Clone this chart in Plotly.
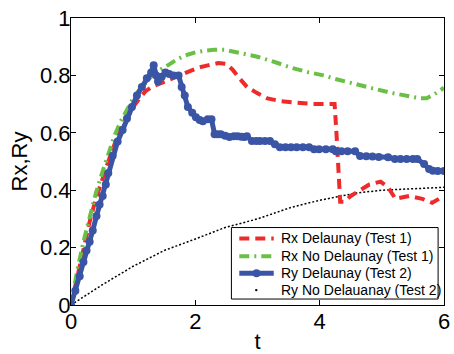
import plotly.graph_objects as go

# Rx Delaunay (Test 1)
t_rx_del = [0, 0.1, 0.2, 0.3, 0.4, 0.5, 0.6, 0.7, 0.8, 0.9, 1.0, 1.1, 1.2, 1.3, 1.41, 1.55,
            1.73, 1.9, 2.05, 2.2, 2.37, 2.5, 2.6, 2.71, 2.83, 2.98, 3.16, 3.38, 3.6, 3.9,
            4.1, 4.24, 4.27, 4.3, 4.33, 4.4, 4.5, 4.65, 4.8, 4.98, 5.1, 5.22, 5.44, 5.65,
            5.81, 5.92]
rx_del = [0, 0.1, 0.2, 0.29, 0.37, 0.44, 0.5, 0.56, 0.61, 0.65, 0.69, 0.72, 0.745, 0.76,
          0.77, 0.785, 0.8, 0.815, 0.827, 0.835, 0.843, 0.84, 0.82, 0.79, 0.76, 0.74, 0.72,
          0.71, 0.705, 0.7, 0.7, 0.7, 0.6, 0.45, 0.36, 0.36, 0.38, 0.4, 0.42, 0.43, 0.41,
          0.37, 0.38, 0.37, 0.356, 0.37]

# Rx No Delaunay (Test 1)
t_rx_nodel = [0, 0.1, 0.2, 0.3, 0.4, 0.5, 0.6, 0.7, 0.8, 0.9, 1.0, 1.1, 1.2, 1.35, 1.52,
              1.7, 1.84, 2.0, 2.16, 2.3, 2.48, 2.7, 3.0, 3.3, 3.54, 3.8, 4.06, 4.3, 4.59,
              4.85, 5.13, 5.4, 5.62, 5.72, 5.85, 6.0]
rx_nodel = [0, 0.12, 0.22, 0.31, 0.39, 0.46, 0.53, 0.59, 0.64, 0.68, 0.72, 0.75, 0.775,
            0.81, 0.83, 0.855, 0.87, 0.88, 0.886, 0.889, 0.889, 0.88, 0.865, 0.845, 0.827,
            0.812, 0.8, 0.785, 0.768, 0.755, 0.74, 0.728, 0.72, 0.72, 0.735, 0.757]

# Ry Delaunay (Test 2)
t_ry_del = [0, 0.07, 0.14, 0.2, 0.25, 0.3, 0.35, 0.41, 0.46, 0.51,
            0.56, 0.6, 0.67, 0.75, 0.83, 0.9, 0.98, 1.06, 1.14, 1.22,
            1.29, 1.33, 1.37, 1.40, 1.46, 1.52, 1.58, 1.65, 1.73, 1.78,
            1.83, 1.88, 1.95, 2.01, 2.07, 2.12, 2.2, 2.26, 2.31, 2.36,
            2.41, 2.48, 2.55, 2.62, 2.68, 2.74, 2.79, 2.83, 2.91, 2.98,
            3.04, 3.12, 3.2, 3.28, 3.36, 3.45, 3.54, 3.63, 3.73, 3.83,
            3.91, 3.99, 4.1, 4.21, 4.26, 4.35, 4.45, 4.57, 4.65, 4.75,
            4.85, 4.95, 5.1, 5.21, 5.3, 5.4, 5.5, 5.57, 5.68, 5.76,
            5.82, 5.9, 6.0]
ry_del = [0, 0.05, 0.1, 0.15, 0.19, 0.22, 0.26, 0.31, 0.35, 0.38,
          0.42, 0.46, 0.52, 0.57, 0.61, 0.65, 0.69, 0.73, 0.76, 0.79,
          0.81, 0.835, 0.80, 0.78, 0.795, 0.81, 0.805, 0.80, 0.80, 0.76,
          0.73, 0.69, 0.67, 0.654, 0.645, 0.64, 0.647, 0.647, 0.595, 0.595,
          0.595, 0.59, 0.585, 0.588, 0.588, 0.586, 0.585, 0.588, 0.571, 0.571,
          0.571, 0.571, 0.571, 0.56, 0.55, 0.55, 0.55, 0.55, 0.55, 0.55,
          0.543, 0.543, 0.543, 0.543, 0.536, 0.536, 0.536, 0.536, 0.519, 0.518,
          0.517, 0.516, 0.515, 0.509, 0.509, 0.509, 0.509, 0.509, 0.491, 0.474,
          0.468, 0.467, 0.467]

# Ry No Delauanay (Test 2)
t_ry_nodel = [0, 0.5, 1.0, 1.5, 2.0, 2.48, 3.0, 3.54, 4.0, 4.59, 5.0, 5.5, 6.0]
ry_nodel = [0, 0.07, 0.135, 0.19, 0.23, 0.27, 0.3, 0.34, 0.365, 0.39, 0.4, 0.405, 0.41]

x_ticks = [0, 2, 4, 6]
y_ticks = [0, 0.2, 0.4, 0.6, 0.8, 1]
y_tick_text = ["0", "0.2", "0.4", "0.6", "0.8", "1"]
legend_names = ["Rx Delaunay (Test 1)", "Rx No Delaunay (Test 1)",
                "Ry Delaunay (Test 2)", "Ry No Delauanay (Test 2)"]

RED = "#ee2a2a"
GREEN = "#6abf45"
BLUE = "#3a55a5"
FONT = "Liberation Sans, Arial, sans-serif"

W, H = 454, 354
ML, MR, MT, MB = 71, 4, 18, 47
PW, PH = W - ML - MR, H - MT - MB


def px2x(px):
    return (px - ML) / PW


def py2y(py):
    return (H - MB - py) / PH


fig = go.Figure()
fig.add_trace(go.Scatter(x=t_ry_nodel, y=ry_nodel, mode="lines", showlegend=False,
                         line=dict(color="black", width=1.5, dash="2px,2px")))
fig.add_trace(go.Scatter(x=t_rx_del, y=rx_del, mode="lines", showlegend=False,
                         line=dict(color=RED, width=4, dash="10px,6px")))
fig.add_trace(go.Scatter(x=t_rx_nodel, y=rx_nodel, mode="lines", showlegend=False,
                         line=dict(color=GREEN, width=4, dash="10px,5px,2px,5px")))
fig.add_trace(go.Scatter(x=t_ry_del, y=ry_del, mode="lines+markers", showlegend=False,
                         line=dict(color=BLUE, width=5),
                         marker=dict(color=BLUE, size=8)))

# custom legend box (MATLAB style)
shapes = [dict(type="rect", xref="paper", yref="paper", layer="above",
               x0=px2x(234), x1=px2x(444), y0=py2y(301), y1=py2y(229),
               fillcolor="white", line=dict(color="black", width=1))]
rows = [240, 258, 275, 292]
styles = [dict(color=RED, width=4, dash="10px,6px"),
          dict(color=GREEN, width=4, dash="10px,5px,2px,5px"),
          dict(color=BLUE, width=5),
          None]
annotations = []
for name, ry, st in zip(legend_names, rows, styles):
    if st is not None:
        shapes.append(dict(type="line", xref="paper", yref="paper", layer="above",
                           x0=px2x(242), x1=px2x(277), y0=py2y(ry), y1=py2y(ry), line=st))
    annotations.append(dict(text=name, xref="paper", yref="paper", x=px2x(282), y=py2y(ry),
                            xanchor="left", yanchor="middle", showarrow=False,
                            font=dict(family=FONT, size=14, color="black")))
# marker glyphs in the legend
shapes.append(dict(type="circle", xref="paper", yref="paper", layer="above",
                   x0=px2x(255.5), x1=px2x(263.5), y0=py2y(rows[2] + 4), y1=py2y(rows[2] - 4),
                   fillcolor=BLUE, line=dict(color=BLUE, width=0)))
shapes.append(dict(type="circle", xref="paper", yref="paper", layer="above",
                   x0=px2x(258), x1=px2x(260.5), y0=py2y(rows[3] + 1.2), y1=py2y(rows[3] - 1.2),
                   fillcolor="black", line=dict(color="black", width=0)))

axis_common = dict(showline=True, linecolor="black", linewidth=1, mirror="ticks",
                   ticks="inside", ticklen=5, tickcolor="black", showgrid=False,
                   zeroline=False, ticklabeloverflow="allow",
                   tickfont=dict(family=FONT, size=22, color="black"))

fig.update_layout(
    width=W, height=H,
    margin=dict(l=ML, r=MR, t=MT, b=MB),
    paper_bgcolor="white", plot_bgcolor="white",
    font=dict(family=FONT, color="black"),
    showlegend=False,
    xaxis=dict(range=[0, 6], tickvals=x_ticks, ticktext=[str(v) for v in x_ticks],
               ticklabelstandoff=-3,
               title=dict(text="t", font=dict(size=22, family=FONT), standoff=0),
               **axis_common),
    yaxis=dict(range=[0, 1], tickvals=y_ticks, ticktext=y_tick_text,
               ticklabelstandoff=-5,
               title=dict(text="Rx,Ry", font=dict(size=22, family=FONT), standoff=6),
               **axis_common),
    shapes=shapes,
    annotations=annotations,
)

fig.write_html("out.html", config={"displayModeBar": False},
               post_script="document.body.style.margin='0';document.body.style.overflow='hidden';")
